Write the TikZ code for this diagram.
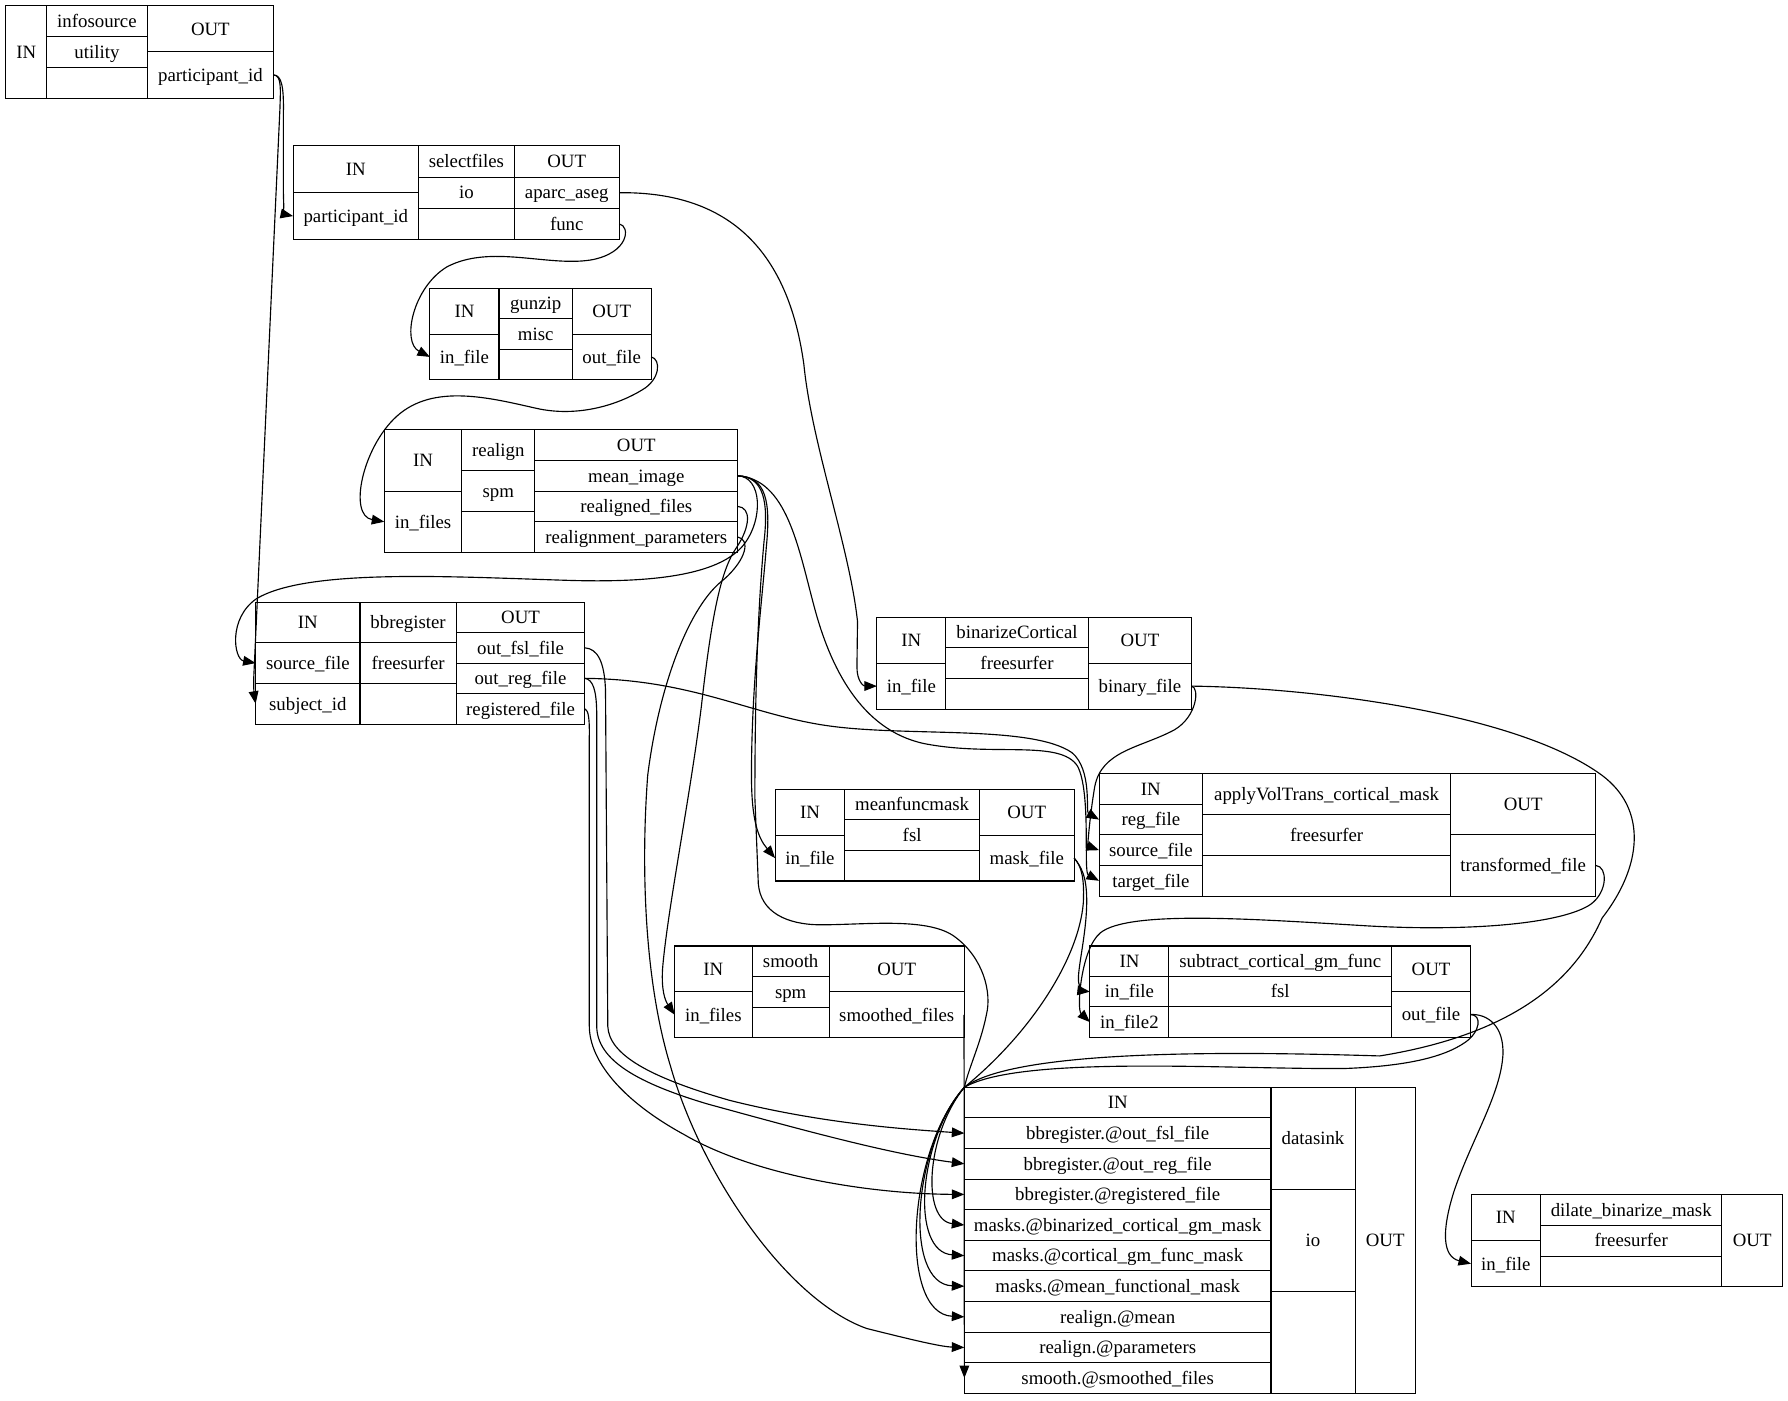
\documentclass[tikz,border=0pt]{standalone}
\usepackage{fontspec}
\setmainfont{Liberation Serif}
\usetikzlibrary{arrows.meta}
\newcommand\rc[6]{\node[cell,minimum width={#4pt-#2pt},minimum height={#5pt-#3pt}] (#1) at ({(#2+#4)/2},{(#3+#5)/2}) {#6};}
\begin{document}
\begin{tikzpicture}[x=1pt,y=-1pt,
  cell/.style={draw=black,line width=0.9pt,inner sep=0pt,outer sep=0pt,text height=12pt,text depth=1pt,font=\fontsize{16.5}{19}\selectfont},
  conn/.style={draw=black,line width=1pt,-{Triangle[length=11pt,width=8.5pt]}}]
\fill[white] (0,0) rectangle (1568,1228);
\useasboundingbox (0,0) rectangle (1568,1228);
% infosource
\rc{info-in}{5}{5}{41}{86}{IN}
\rc{info-name}{41}{5}{129}{32}{infosource}
\rc{info-pkg}{41}{32}{129}{59}{utility}
\rc{info-e}{41}{59}{129}{86}{}
\rc{info-out}{129}{5}{240}{45.5}{OUT}
\rc{info-pid}{129}{45.5}{240}{86}{participant\_id}
% selectfiles
\rc{sel-in}{257}{128}{367}{169}{IN}
\rc{sel-pid}{257}{169}{367}{210}{participant\_id}
\rc{sel-name}{367}{128}{451}{155.33}{selectfiles}
\rc{sel-pkg}{367}{155.33}{451}{182.67}{io}
\rc{sel-e}{367}{182.67}{451}{210}{}
\rc{sel-out}{451}{128}{543}{155.33}{OUT}
\rc{sel-aparc}{451}{155.33}{543}{182.67}{aparc\_aseg}
\rc{sel-func}{451}{182.67}{543}{210}{func}
% gunzip
\rc{gz-in}{377}{253}{437.6}{293}{IN}
\rc{gz-infile}{377}{293}{437.6}{333}{in\_file}
\rc{gz-name}{437.6}{253}{501.9}{279.67}{gunzip}
\rc{gz-pkg}{437.6}{279.67}{501.9}{306.33}{misc}
\rc{gz-e}{437.6}{306.33}{501.9}{333}{}
\rc{gz-out}{501.9}{253}{571}{293}{OUT}
\rc{gz-outfile}{501.9}{293}{571}{333}{out\_file}
% realign
\rc{ra-in}{337}{377}{405}{430.7}{IN}
\rc{ra-infiles}{337}{430.7}{405}{484.4}{in\_files}
\rc{ra-name}{405}{377}{469}{412.8}{realign}
\rc{ra-pkg}{405}{412.8}{469}{448.6}{spm}
\rc{ra-e}{405}{448.6}{469}{484.4}{}
\rc{ra-out}{469}{377}{647}{403.85}{OUT}
\rc{ra-mean}{469}{403.85}{647}{430.7}{mean\_image}
\rc{ra-realigned}{469}{430.7}{647}{457.55}{realigned\_files}
\rc{ra-params}{469}{457.55}{647}{484.4}{realignment\_parameters}
% bbregister
\rc{bb-in}{224.2}{528}{315.7}{563.67}{IN}
\rc{bb-source}{224.2}{563.67}{315.7}{599.33}{source\_file}
\rc{bb-subject}{224.2}{599.33}{315.7}{635}{subject\_id}
\rc{bb-name}{315.7}{528}{400}{563.67}{bbregister}
\rc{bb-pkg}{315.7}{563.67}{400}{599.33}{freesurfer}
\rc{bb-e}{315.7}{599.33}{400}{635}{}
\rc{bb-out}{400}{528}{513}{554.75}{OUT}
\rc{bb-fsl}{400}{554.75}{513}{581.5}{out\_fsl\_file}
\rc{bb-reg}{400}{581.5}{513}{608.25}{out\_reg\_file}
\rc{bb-regd}{400}{608.25}{513}{635}{registered\_file}
% binarizeCortical
\rc{bc-in}{769}{541.4}{829.4}{581.6}{IN}
\rc{bc-infile}{769}{581.6}{829.4}{621.8}{in\_file}
\rc{bc-name}{829.4}{541.4}{954.4}{568.2}{binarizeCortical}
\rc{bc-pkg}{829.4}{568.2}{954.4}{595}{freesurfer}
\rc{bc-e}{829.4}{595}{954.4}{621.8}{}
\rc{bc-out}{954.4}{541.4}{1045}{581.6}{OUT}
\rc{bc-bin}{954.4}{581.6}{1045}{621.8}{binary\_file}
% meanfuncmask
\rc{mf-in}{679.7}{692.2}{741}{732.4}{IN}
\rc{mf-infile}{679.7}{732.4}{741}{772.6}{in\_file}
\rc{mf-name}{741}{692.2}{858.8}{719}{meanfuncmask}
\rc{mf-pkg}{741}{719}{858.8}{745.8}{fsl}
\rc{mf-e}{741}{745.8}{858.8}{772.6}{}
\rc{mf-out}{858.8}{692.2}{942}{732.4}{OUT}
\rc{mf-mask}{858.8}{732.4}{942}{772.6}{mask\_file}
% applyVolTrans_cortical_mask
\rc{av-in}{963.8}{678.5}{1054.7}{705.3}{IN}
\rc{av-reg}{963.8}{705.3}{1054.7}{732.15}{reg\_file}
\rc{av-source}{963.8}{732.15}{1054.7}{759}{source\_file}
\rc{av-target}{963.8}{759}{1054.7}{785.8}{target\_file}
\rc{av-name}{1054.7}{678.5}{1272}{714.3}{applyVolTrans\_cortical\_mask}
\rc{av-pkg}{1054.7}{714.3}{1272}{750}{freesurfer}
\rc{av-e}{1054.7}{750}{1272}{785.8}{}
\rc{av-out}{1272}{678.5}{1399.5}{732.15}{OUT}
\rc{av-trans}{1272}{732.15}{1399.5}{785.8}{transformed\_file}
% smooth
\rc{sm-in}{591.7}{829.6}{659.5}{869.8}{IN}
\rc{sm-infiles}{591.7}{869.8}{659.5}{910}{in\_files}
\rc{sm-name}{659.5}{829.6}{727.3}{856.4}{smooth}
\rc{sm-pkg}{659.5}{856.4}{727.3}{883.2}{spm}
\rc{sm-e}{659.5}{883.2}{727.3}{910}{}
\rc{sm-out}{727.3}{829.6}{845.4}{869.8}{OUT}
\rc{sm-smoothed}{727.3}{869.8}{845.4}{910}{smoothed\_files}
% subtract_cortical_gm_func
\rc{sc-in}{955.8}{829.6}{1025.1}{856.3}{IN}
\rc{sc-infile}{955.8}{856.3}{1025.1}{883}{in\_file}
\rc{sc-infile2}{955.8}{883}{1025.1}{909.7}{in\_file2}
\rc{sc-name}{1025.1}{829.6}{1220.3}{856.3}{subtract\_cortical\_gm\_func}
\rc{sc-pkg}{1025.1}{856.3}{1220.3}{883}{fsl}
\rc{sc-e}{1025.1}{883}{1220.3}{909.7}{}
\rc{sc-out}{1220.3}{829.6}{1289.6}{869.65}{OUT}
\rc{sc-outfile}{1220.3}{869.65}{1289.6}{909.7}{out\_file}
% dilate_binarize_mask
\rc{db-in}{1290}{1047.7}{1351}{1088.05}{IN}
\rc{db-infile}{1290}{1088.05}{1351}{1128.4}{in\_file}
\rc{db-name}{1351}{1047.7}{1510}{1074.6}{dilate\_binarize\_mask}
\rc{db-pkg}{1351}{1074.6}{1510}{1101.5}{freesurfer}
\rc{db-e}{1351}{1101.5}{1510}{1128.4}{}
\rc{db-out}{1510}{1047.7}{1563.2}{1128.4}{OUT}
% datasink
\rc{ds-in}{845.7}{953.5}{1114.6}{980.34}{IN}
\rc{ds-1}{845.7}{980.34}{1114.6}{1007.18}{bbregister.@out\_fsl\_file}
\rc{ds-2}{845.7}{1007.18}{1114.6}{1034.02}{bbregister.@out\_reg\_file}
\rc{ds-3}{845.7}{1034.02}{1114.6}{1060.86}{bbregister.@registered\_file}
\rc{ds-4}{845.7}{1060.86}{1114.6}{1087.7}{masks.@binarized\_cortical\_gm\_mask}
\rc{ds-5}{845.7}{1087.7}{1114.6}{1114.54}{masks.@cortical\_gm\_func\_mask}
\rc{ds-6}{845.7}{1114.54}{1114.6}{1141.38}{masks.@mean\_functional\_mask}
\rc{ds-7}{845.7}{1141.38}{1114.6}{1168.22}{realign.@mean}
\rc{ds-8}{845.7}{1168.22}{1114.6}{1195.06}{realign.@parameters}
\rc{ds-9}{845.7}{1195.06}{1114.6}{1221.9}{smooth.@smoothed\_files}
\rc{ds-name}{1114.6}{953.5}{1188.3}{1042.97}{datasink}
\rc{ds-pkg}{1114.6}{1042.97}{1188.3}{1132.43}{io}
\rc{ds-e}{1114.6}{1132.43}{1188.3}{1221.9}{}
\rc{ds-out}{1188.3}{953.5}{1241.2}{1221.9}{OUT}
\coordinate (dsc) at (ds-in.north west);
% ---- connectors ----
\draw[conn] (info-pid.east) .. controls (247,66) and (249,76) .. (248.5,100) -- (248.5,165) .. controls (248.5,180) and (250,188) .. (sel-pid.west);
\draw[conn] (info-pid.east) .. controls (247,66) and (246,78) .. (245.5,95) -- (222.5,595) .. controls (222.3,603) and (223,610) .. (bb-subject.west);
\draw[conn] (sel-aparc.east) .. controls (630,168) and (690,210) .. (705,320) .. controls (712,390) and (745,480) .. (752,545) -- (751.5,585) .. controls (751.5,597) and (757,601.6) .. (bc-infile.west);
\draw[conn] (sel-func.east) .. controls (553,198) and (552,222) .. (518,228) .. controls (480,234) and (430,214) .. (392,234) .. controls (362,252) and (352,300) .. (gz-infile.west);
\draw[conn] (gz-outfile.east) .. controls (580,315) and (579,333) .. (563,342) .. controls (540,356) and (505,366) .. (470,358) .. controls (430,349) and (380,336) .. (348,365) .. controls (318,392) and (305,452) .. (ra-infiles.west);
\draw[conn] (ra-mean.east) .. controls (668,418) and (670,455) .. (652,478) .. controls (630,505) and (570,511) .. (500,509) .. controls (400,506) and (270,498) .. (225,525) .. controls (200,542) and (205,578) .. (bb-source.west);
\draw[conn] (ra-mean.east) .. controls (672,418) and (676,440) .. (672,480) .. controls (668,530) and (659,600) .. (659,680) .. controls (659,720) and (665,735) .. (mf-infile.west);
\draw[conn] (ra-mean.east) .. controls (690,420) and (700,480) .. (714,532) .. controls (728,585) and (755,640) .. (810,652) .. controls (870,664) and (930,648) .. (945,672) .. controls (957,695) and (950,765) .. (av-target.west);
\draw[conn] (ra-mean.east) .. controls (670,418) and (674,440) .. (670,475) .. controls (665,530) and (662,600) .. (662,700) -- (665,775) .. controls (667,800) and (690,811) .. (720,811) .. controls (760,811) and (815,804) .. (838,822) .. controls (862,840) and (870,870) .. (865,890) .. controls (860,915) and (850,935) .. (dsc) .. controls (795,1010) and (788,1152) .. (ds-7.west);
\draw[conn] (ra-realigned.east) .. controls (659,445) and (658,462) .. (646,480) .. controls (632,500) and (624,540) .. (615,620) .. controls (605,700) and (585,800) .. (581,850) .. controls (580,868) and (583,877) .. (sm-infiles.west);
\draw[conn] (ra-params.east) .. controls (658,473) and (655,490) .. (635,508) .. controls (605,530) and (578,600) .. (568,680) .. controls (562,760) and (565,860) .. (588,935) .. controls (615,1030) and (690,1140) .. (760,1165) .. controls (800,1175) and (825,1181) .. (ds-8.west);
\draw[conn] (bb-reg.east) .. controls (610,596) and (660,628) .. (730,637) .. controls (800,646) and (905,636) .. (940,660) .. controls (958,675) and (952,712) .. (av-reg.west);
\draw[conn] (bb-fsl.east) .. controls (524,569) and (530,580) .. (531,605) -- (533,900) .. controls (534,925) and (570,945) .. (640,965) .. controls (720,985) and (790,990) .. (ds-1.west);
\draw[conn] (bb-reg.east) .. controls (520,596) and (523,605) .. (523.3,625) -- (523.3,900) .. controls (523.5,930) and (560,950) .. (620,968) .. controls (700,990) and (780,1012) .. (ds-2.west);
\draw[conn] (bb-regd.east) .. controls (516,623) and (517,630) .. (516.8,645) -- (516.8,900) .. controls (517,930) and (545,965) .. (600,995) .. controls (660,1030) and (760,1047) .. (ds-3.west);
\draw[conn] (bc-bin.east) .. controls (1052,603) and (1050,628) .. (1030,640) .. controls (1000,656) and (966,658) .. (960,690) .. controls (955,720) and (954,742) .. (av-source.west);
\draw[conn] (bc-bin.east) .. controls (1150,603) and (1330,625) .. (1405,680) .. controls (1445,710) and (1440,760) .. (1405,805) .. controls (1385,850) and (1340,905) .. (1210,926) .. controls (1080,922) and (890,920) .. (dsc) .. controls (812,995) and (808,1070) .. (ds-4.west);
\draw[conn] (mf-mask.east) .. controls (948,760) and (953,768) .. (953,790) .. controls (953,820) and (944,852) .. (946,862) .. controls (947,867) and (950,869) .. (sc-infile.west);
\draw[conn] (mf-mask.east) .. controls (949,760) and (951,772) .. (950,792) .. controls (946,840) and (905,905) .. (dsc) .. controls (800,1005) and (792,1126) .. (ds-6.west);
\draw[conn] (av-trans.east) .. controls (1410,760) and (1410,782) .. (1395,793) .. controls (1370,810) and (1290,817) .. (1200,812) .. controls (1100,806) and (990,798) .. (965,818) .. controls (948,832) and (944,885) .. (sc-infile2.west);
\draw[conn] (sc-outfile.east) .. controls (1305,889) and (1319,900) .. (1318,925) .. controls (1316,960) and (1290,1000) .. (1275,1045) .. controls (1264,1080) and (1265,1102) .. (db-infile.west);
\draw[conn] (sc-outfile.east) .. controls (1300,890) and (1298,905) .. (1285,914) .. controls (1265,928) and (1230,935) .. (1180,937) .. controls (1080,938) and (895,925) .. (dsc) .. controls (805,1000) and (798,1098) .. (ds-5.west);
\draw[conn] (sm-smoothed.east) -- (ds-9.west);
\end{tikzpicture}
\end{document}
